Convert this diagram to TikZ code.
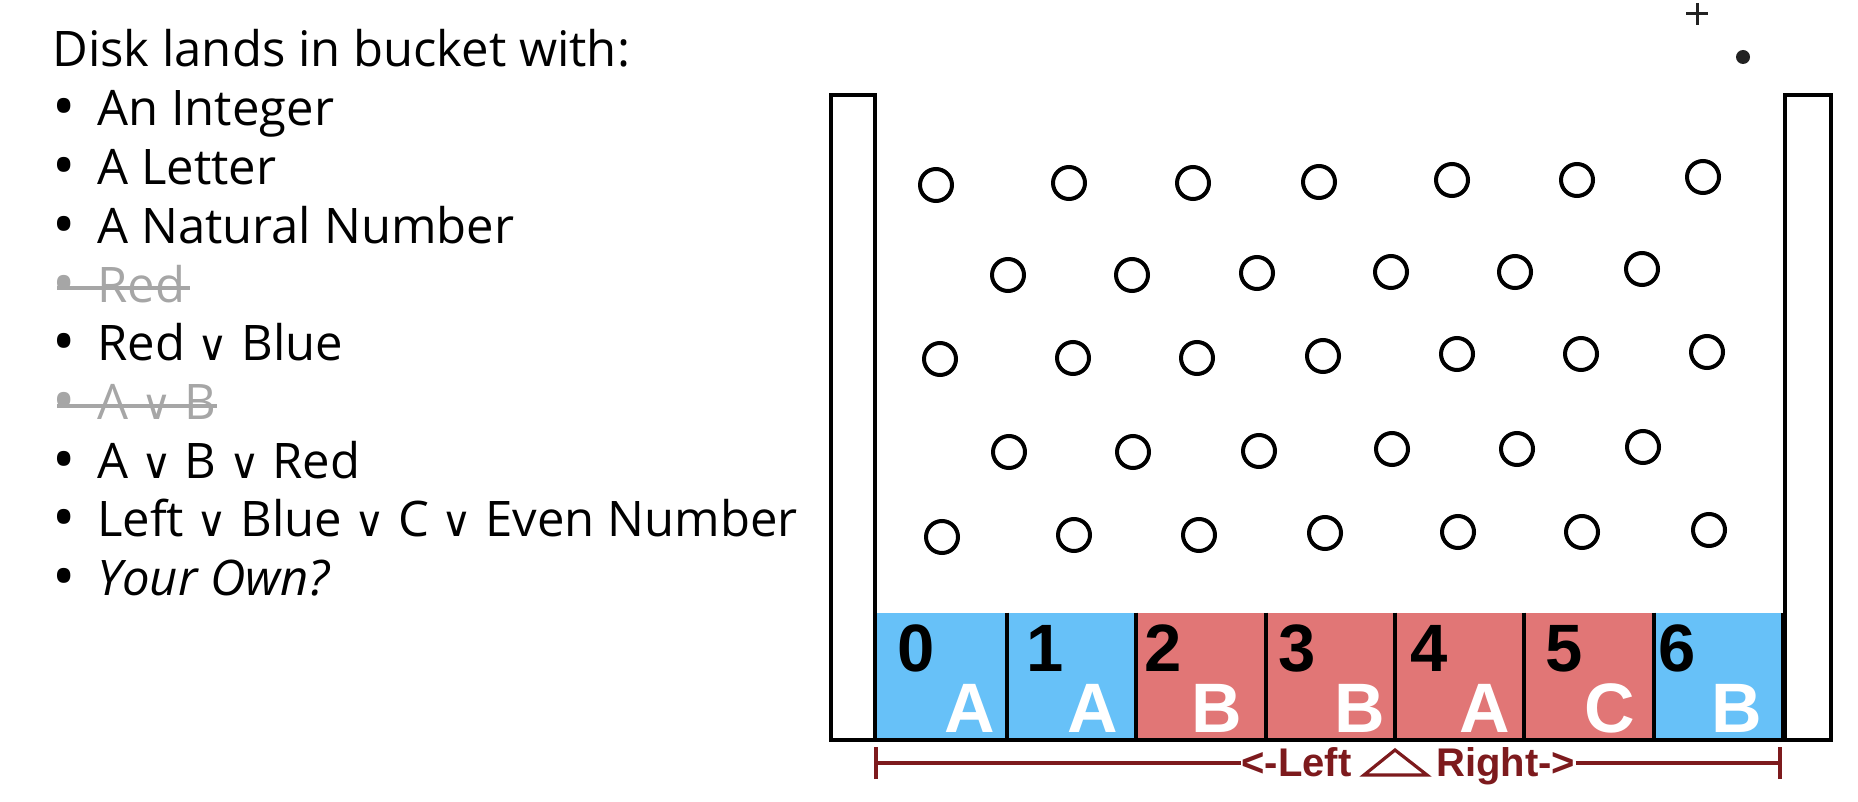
\documentclass[tikz,border=0pt]{standalone}
\usepackage{fontspec}
\setmainfont{Open Sans}
\newfontfamily\binfont{Liberation Sans}
\newfontfamily\symfont{DejaVu Sans}
\usepackage{tikz}
\pgfdeclarelayer{filllayer}
\pgfsetlayers{filllayer,main}
\definecolor{bucketblue}{RGB}{103,193,248}
\definecolor{bucketred}{RGB}{225,118,118}
\definecolor{strikegray}{RGB}{166,166,166}
\definecolor{bracketred}{RGB}{125,26,29}
\definecolor{markgray}{RGB}{34,34,34}
\newcommand{\orv}{{\symfont\fontsize{21pt}{21pt}\selectfont ∨}}
\tikzstyle{listtext}=[anchor=base west, inner sep=0pt, font=\fontsize{24.5pt}{29pt}\selectfont]
\tikzstyle{bullet}=[anchor=base, inner sep=0pt, yshift=-1.5pt, font=\fontsize{31pt}{31pt}\selectfont]
\tikzstyle{struck}=[text=strikegray]
\tikzstyle{strikeline}=[draw=strikegray, line width=2pt]
\tikzstyle{peg}=[circle, draw=black, line width=2pt, minimum size=16pt, inner sep=0pt]
\tikzstyle{wall}=[draw=black, fill=white, line width=2pt]
\tikzstyle{bucket}=[rectangle, inner sep=0pt, minimum width=64.7pt, minimum height=63.5pt]
\tikzstyle{divider}=[draw=black, line width=2pt]
\tikzstyle{number}=[anchor=base, inner sep=0pt, font=\binfont\bfseries\fontsize{33.5pt}{34pt}\selectfont]
\tikzstyle{letter}=[anchor=base, inner sep=0pt, text=white, font=\binfont\bfseries\fontsize{35pt}{35pt}\selectfont]
\tikzstyle{bracket}=[draw=bracketred, line width=2pt]
\tikzstyle{bracketlabel}=[inner sep=0pt, text=bracketred, font=\binfont\bfseries\fontsize{20pt}{20pt}\selectfont]

\begin{document}
\begin{tikzpicture}[x=0.5pt, y=-0.5pt]
	\useasboundingbox (0,0) rectangle (1858,802);
	% list on the left
	\node [style=listtext] (title) at (52, 67) {Disk lands in bucket with:};
	\node [style=bullet] (d1) at (64, 126) {•};
	\node [style=listtext] (item1) at (97, 126) {An Integer};
	\node [style=bullet] (d2) at (64, 184.7) {•};
	\node [style=listtext] (item2) at (97, 184.7) {A Letter};
	\node [style=bullet] (d3) at (64, 243.4) {•};
	\node [style=listtext] (item3) at (97, 243.4) {A Natural Number};
	\node [style=bullet, style=struck] (d4) at (64, 302.1) {•};
	\node [style=listtext, style=struck] (item4) at (97, 302.1) {Red};
	\node [style=bullet] (d5) at (64, 360.8) {•};
	\node [style=listtext] (item5) at (97, 360.8) {Red \orv{} Blue};
	\node [style=bullet, style=struck] (d6) at (64, 419.5) {•};
	\node [style=listtext, style=struck] (item6) at (97, 419.5) {A \orv{} B};
	\node [style=bullet] (d7) at (64, 478.2) {•};
	\node [style=listtext] (item7) at (97, 478.2) {A \orv{} B \orv{} Red};
	\node [style=bullet] (d8) at (64, 536.9) {•};
	\node [style=listtext] (item8) at (97, 536.9) {Left \orv{} Blue \orv{} C \orv{} Even Number};
	\node [style=bullet] (d9) at (64, 595.6) {•};
	\node [style=listtext] (item9) at (97, 595.6) {\itshape Your Own?};
	\coordinate (s4) at (57, 288);
	\coordinate (s6) at (57, 405.5);
	\draw [style=strikeline] (s4) -- (s4 -| item4.east) -- ([xshift=2pt]s4 -| item4.east);
	\draw [style=strikeline] (s6) -- (s6 -| item6.east);

	% buckets
	\begin{pgfonlayer}{filllayer}
		\node [style=bucket, fill=bucketblue] (b0) at (941.7, 676.5) {};
		\node [style=bucket, fill=bucketblue] (b1) at (1071.1, 676.5) {};
		\node [style=bucket, fill=bucketred] (b2) at (1200.5, 676.5) {};
		\node [style=bucket, fill=bucketred] (b3) at (1329.9, 676.5) {};
		\node [style=bucket, fill=bucketred] (b4) at (1459.3, 676.5) {};
		\node [style=bucket, fill=bucketred] (b5) at (1588.7, 676.5) {};
		\node [style=bucket, fill=bucketblue] (b6) at (1718.1, 676.5) {};
	\end{pgfonlayer}
	\draw [style=wall] (831, 95) rectangle (875, 740);
	\draw [style=wall] (1785, 95) rectangle (1831, 740);
	\draw [style=divider] (831, 740) -- (1831, 740);
	\draw [style=divider] (b0.north east) -- (b0.south east);
	\draw [style=divider] (b1.north east) -- (b1.south east);
	\draw [style=divider] (b2.north east) -- (b2.south east);
	\draw [style=divider] (b3.north east) -- (b3.south east);
	\draw [style=divider] (b4.north east) -- (b4.south east);
	\draw [style=divider] (b5.north east) -- (b5.south east);
	\draw [style=divider] (b6.north east) -- (b6.south east);
	\node [style=number] (n0) at (916, 671) {0};
	\node [style=number] (n1) at (1045, 671) {1};
	\node [style=number] (n2) at (1163, 671) {2};
	\node [style=number] (n3) at (1297, 671) {3};
	\node [style=number] (n4) at (1429, 671) {4};
	\node [style=number] (n5) at (1564, 671) {5};
	\node [style=number] (n6) at (1677, 671) {6};
	\node [style=letter] (l0) at (970, 732) {A};
	\node [style=letter] (l1) at (1093, 732) {A};
	\node [style=letter] (l2) at (1217, 732) {B};
	\node [style=letter] (l3) at (1360, 732) {B};
	\node [style=letter] (l4) at (1485, 732) {A};
	\node [style=letter] (l5) at (1610, 732) {C};
	\node [style=letter] (l6) at (1737, 732) {B};

	% pegs
	\node [style=peg] (r1c1) at (936, 185) {};
	\node [style=peg] (r1c2) at (1069, 183) {};
	\node [style=peg] (r1c3) at (1193, 183) {};
	\node [style=peg] (r1c4) at (1319, 182) {};
	\node [style=peg] (r1c5) at (1452, 180) {};
	\node [style=peg] (r1c6) at (1577, 180) {};
	\node [style=peg] (r1c7) at (1703, 177) {};
	\node [style=peg] (r2c1) at (1008, 275) {};
	\node [style=peg] (r2c2) at (1132, 275) {};
	\node [style=peg] (r2c3) at (1257, 273) {};
	\node [style=peg] (r2c4) at (1391, 272) {};
	\node [style=peg] (r2c5) at (1515, 272) {};
	\node [style=peg] (r2c6) at (1642, 269) {};
	\node [style=peg] (r3c1) at (940, 359) {};
	\node [style=peg] (r3c2) at (1073, 358) {};
	\node [style=peg] (r3c3) at (1197, 358) {};
	\node [style=peg] (r3c4) at (1323, 356) {};
	\node [style=peg] (r3c5) at (1457, 354) {};
	\node [style=peg] (r3c6) at (1581, 354) {};
	\node [style=peg] (r3c7) at (1707, 352) {};
	\node [style=peg] (r4c1) at (1009, 452) {};
	\node [style=peg] (r4c2) at (1133, 452) {};
	\node [style=peg] (r4c3) at (1259, 451) {};
	\node [style=peg] (r4c4) at (1392, 449) {};
	\node [style=peg] (r4c5) at (1517, 449) {};
	\node [style=peg] (r4c6) at (1643, 447) {};
	\node [style=peg] (r5c1) at (942, 537) {};
	\node [style=peg] (r5c2) at (1074, 535) {};
	\node [style=peg] (r5c3) at (1199, 535) {};
	\node [style=peg] (r5c4) at (1325, 533) {};
	\node [style=peg] (r5c5) at (1458, 532) {};
	\node [style=peg] (r5c6) at (1582, 532) {};
	\node [style=peg] (r5c7) at (1709, 530) {};

	% left / right bracket
	\coordinate (tickL) at (876, 763);
	\coordinate (tickR) at (1780, 763);
	\node [style=bracketlabel, anchor=base east] (leftlabel) at (1352, 776) {<-Left};
	\node [style=bracketlabel, anchor=base west] (rightlabel) at (1436, 776) {Right->};
	\draw [style=bracket] ([yshift=-8pt]tickL) -- ([yshift=8pt]tickL);
	\draw [style=bracket] ([yshift=-8pt]tickR) -- ([yshift=8pt]tickR);
	\draw [style=bracket] (tickL) -- (tickL -| leftlabel.west);
	\draw [style=bracket] (tickR -| rightlabel.east) -- (tickR);
	\draw [style=bracket, line width=1.6pt, line join=miter] (1364, 775) -- (1395, 750) -- (1427, 775) -- cycle;

	% cursor marks
	\draw [draw=markgray, line width=1.5pt] (1686, 14) -- (1708, 14);
	\draw [draw=markgray, line width=1.5pt] (1697, 3) -- (1697, 25);
	\fill [markgray] (1743, 57) circle (7);
\end{tikzpicture}
\end{document}
